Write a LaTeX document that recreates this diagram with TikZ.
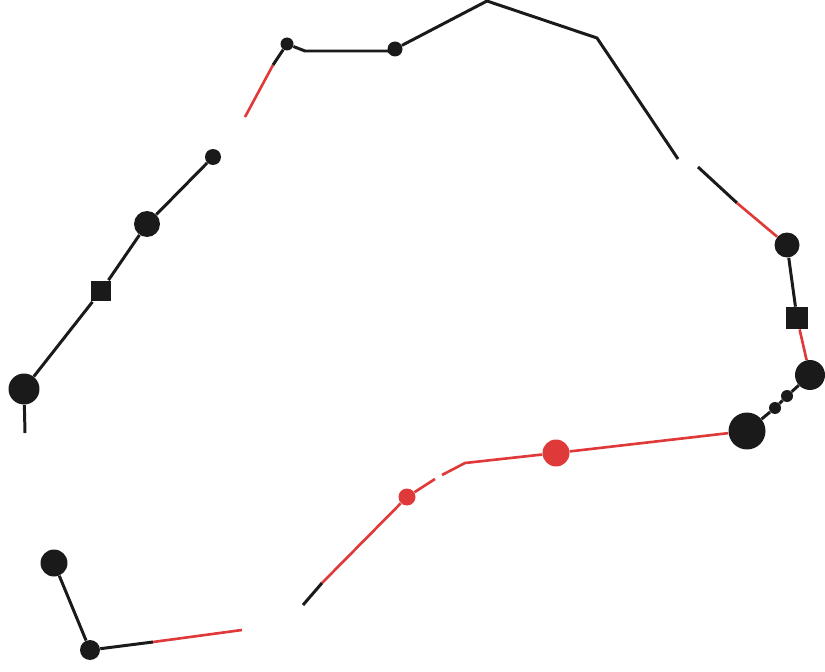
\documentclass[tikz,border=0pt]{standalone}
\usepackage{xcolor}
\definecolor{cInk}{HTML}{1A1A1A}
\definecolor{cRed}{HTML}{E0393A}
\tikzset{
  dot/.style  = {circle, fill=cInk, inner sep=0pt, minimum size=#1},
  dot/.default = 0.3cm,
  rdot/.style = {dot=#1, fill=cRed},
  sqr/.style  = {rectangle, fill=cInk, inner sep=0pt, minimum size=#1},
  ink/.style  = {draw=cInk, line width=1.7pt},
  rln/.style  = {draw=cRed, line width=1.5pt},
}

\begin{document}
\begin{tikzpicture}[x=0.02cm, y=-0.02cm]
  \useasboundingbox (0,0) rectangle (825,672);

  % left chain
  \node[dot=0.32cm] (a1) at (213,157) {};
  \node[dot=0.52cm] (a2) at (147,224) {};
  \node[sqr=0.42cm] (a3) at (101,291) {};
  \node[dot=0.62cm] (a4) at (24,389)  {};
  \coordinate (a5) at (25,433);

  \draw[ink] (a1)--(a2);
  \draw[ink] (a2)--(a3);
  \draw[ink] (a3)--(a4);
  \draw[ink] (a4)--(a5);

  % top ridge
  \coordinate (t0) at (245,117);
  \coordinate (tm) at (273,65);
  \node[dot=0.26cm] (t1) at (287,44) {};
  \coordinate (k1) at (305,51);
  \coordinate (k2) at (390,51);
  \node[dot=0.30cm] (t2) at (395,49) {};
  \coordinate (k3) at (487,1);
  \coordinate (k4) at (597,38);
  \coordinate (k5) at (678,159);

  \draw[rln] (t0)--(tm);
  \draw[ink] (tm)--(t1);
  \draw[ink] (t1)--(k1)--(k2)--(t2);
  \draw[ink] (t2)--(k3)--(k4)--(k5);

  % right side
  \coordinate (k6) at (698,167);
  \coordinate (k7) at (737,203);
  \node[dot=0.50cm] (r1) at (787,245) {};
  \node[sqr=0.44cm] (r2) at (797,318) {};
  \node[dot=0.60cm] (r3) at (810,375) {};
  \node[dot=0.24cm] (r4) at (787,396) {};
  \node[dot=0.24cm] (r5) at (775,408) {};
  \node[dot=0.74cm] (r6) at (747,431) {};

  \draw[ink] (k6)--(k7);
  \draw[rln] (k7)--(r1);
  \draw[ink] (r1)--(r2);
  \draw[rln] (r2)--(r3);
  \draw[ink] (r3)--(r4);
  \draw[ink] (r4)--(r5);
  \draw[ink] (r5)--(r6);

  % lower route
  \node[rdot=0.54cm] (b1) at (556,453) {};
  \coordinate (k8) at (465,463);
  \coordinate (k9) at (442,475);
  \coordinate (k10) at (435,479);
  \node[rdot=0.34cm] (b2) at (407,497) {};
  \coordinate (k11) at (322,583);
  \coordinate (k12) at (303,605);

  \draw[rln] (r6)--(b1);
  \draw[rln] (b1)--(k8)--(k9);
  \draw[rln] (k10)--(b2);
  \draw[rln] (b2)--(k11);
  \draw[ink] (k11)--(k12);

  % bottom left
  \node[dot=0.54cm] (c1) at (54,563) {};
  \node[dot=0.40cm] (c2) at (90,650) {};
  \coordinate (k13) at (153,642);
  \coordinate (k14) at (242,630);

  \draw[ink] (c1)--(c2);
  \draw[ink] (c2)--(k13);
  \draw[rln] (k13)--(k14);

\end{tikzpicture}
\end{document}
